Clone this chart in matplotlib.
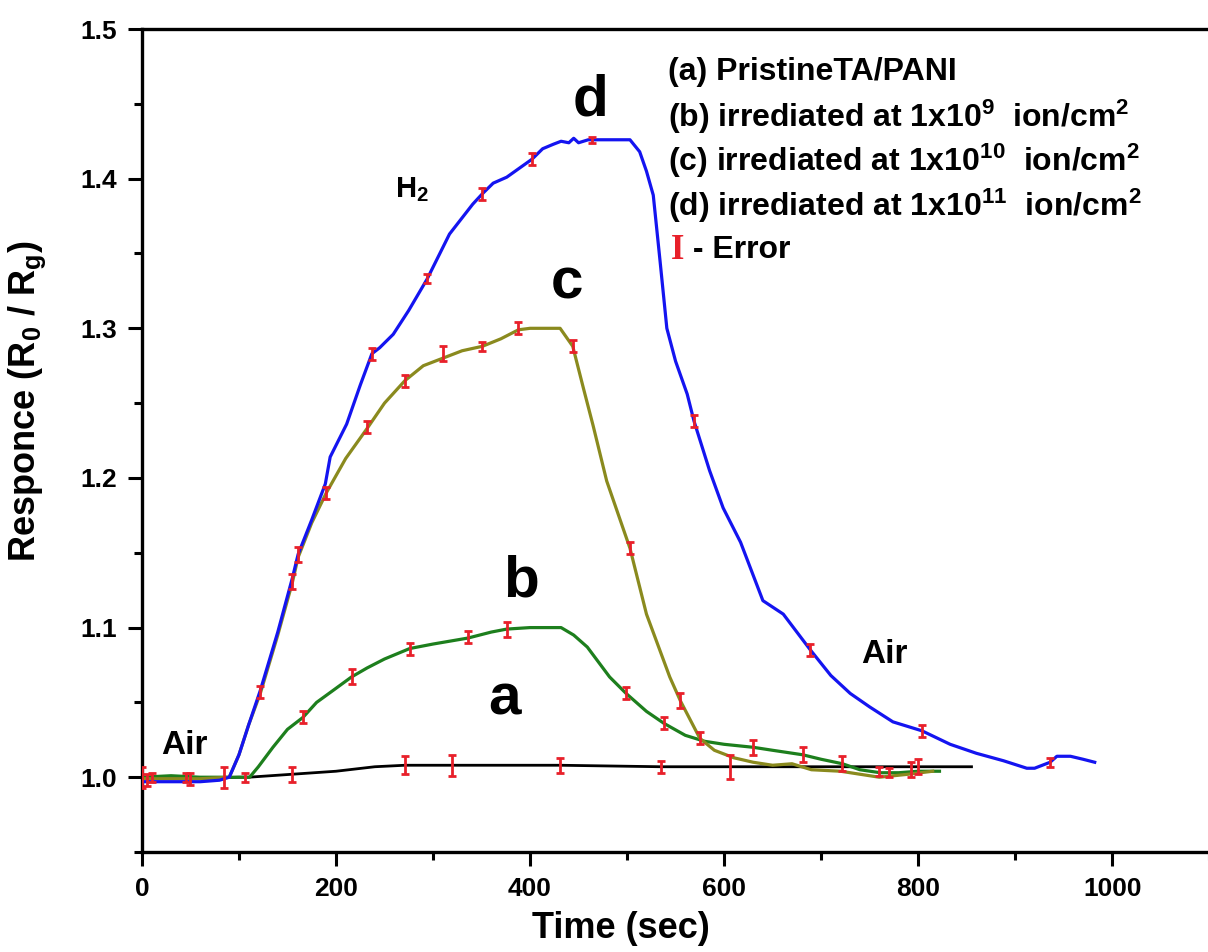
import matplotlib
matplotlib.use("Agg")
import matplotlib.pyplot as plt
from matplotlib.ticker import MultipleLocator

plt.rcParams['font.family'] = ['Liberation Sans', 'DejaVu Sans']
plt.rcParams['font.weight'] = 'bold'
plt.rcParams['mathtext.fontset'] = 'custom'
plt.rcParams['mathtext.rm'] = 'Liberation Sans:bold'
plt.rcParams['mathtext.bf'] = 'Liberation Sans:bold'
plt.rcParams['mathtext.it'] = 'Liberation Sans:bold'

# ---- data ----
d_x = [0, 20, 40, 60, 80, 90, 100, 110, 122, 140, 155, 161, 175, 189, 194, 211, 225, 237, 245, 259, 275, 294,
       317, 341, 351, 362, 376, 402, 413, 424, 432, 440, 445, 450, 460, 470, 480, 503, 513, 520, 527, 534,
       541, 550, 562, 569, 585, 599, 617, 640, 661, 689, 710, 730, 750, 774, 804, 833, 860, 888, 912, 920,
       936, 943, 957, 970, 982]
d_y = [0.997, 0.997, 0.997, 0.997, 0.998, 1.0, 1.015, 1.035, 1.058, 1.097, 1.133, 1.149, 1.172, 1.196, 1.214,
       1.236, 1.262, 1.283, 1.287, 1.296, 1.312, 1.333, 1.363, 1.383, 1.39, 1.397, 1.401, 1.413, 1.42, 1.423,
       1.425, 1.424, 1.427, 1.424, 1.426, 1.426, 1.426, 1.426, 1.418, 1.405, 1.389, 1.345, 1.30, 1.278, 1.256,
       1.238, 1.205, 1.18, 1.157, 1.118, 1.109, 1.085, 1.068, 1.056, 1.047, 1.037, 1.031, 1.022, 1.016, 1.011,
       1.006, 1.006, 1.010, 1.014, 1.014, 1.012, 1.010]

c_x = [0, 30, 60, 90, 100, 110, 122, 140, 155, 161, 175, 190, 210, 232, 250, 271, 290, 310, 330, 351, 370,
       388, 400, 431, 444, 455, 465, 479, 503, 520, 544, 555, 575, 590, 610, 630, 650, 670, 690, 720, 740,
       760, 790, 815]
c_y = [0.999, 0.999, 0.999, 1.0, 1.015, 1.035, 1.056, 1.095, 1.13, 1.147, 1.17, 1.19, 1.213, 1.233, 1.25,
       1.265, 1.275, 1.28, 1.285, 1.288, 1.293, 1.299, 1.30, 1.30, 1.288, 1.26, 1.235, 1.198, 1.153, 1.109,
       1.067, 1.051, 1.026, 1.018, 1.013, 1.010, 1.008, 1.009, 1.005, 1.004, 1.002, 1.0, 1.002, 1.004]

b_x = [0, 30, 60, 100, 111, 120, 135, 150, 166, 180, 197, 216, 232, 250, 276, 300, 336, 360, 376, 400, 432,
       445, 459, 482, 499, 520, 538, 560, 580, 600, 630, 650, 681, 700, 722, 740, 761, 780, 800, 822]
b_y = [1.0, 1.001, 1.0, 1.0, 1.0, 1.007, 1.02, 1.032, 1.04, 1.05, 1.058, 1.067, 1.073, 1.079, 1.086, 1.089,
       1.093, 1.097, 1.099, 1.100, 1.100, 1.095, 1.087, 1.067, 1.056, 1.044, 1.036, 1.028, 1.024, 1.022, 1.020,
       1.018, 1.015, 1.012, 1.009, 1.005, 1.003, 1.003, 1.004, 1.004]

a_x = [0, 50, 100, 110, 155, 200, 240, 271, 320, 380, 431, 535, 606, 700, 800, 855]
a_y = [0.999, 0.999, 1.0, 1.0, 1.002, 1.004, 1.007, 1.008, 1.008, 1.008, 1.008, 1.007, 1.007, 1.007, 1.007, 1.007]

# error bars (x, y, half error)
d_ex = [5, 122, 155, 237, 294, 351, 402, 464, 569, 689, 804, 936]
d_ey = [0.998, 1.057, 1.131, 1.283, 1.333, 1.39, 1.413, 1.426, 1.238, 1.085, 1.031, 1.010]
d_ee = [0.004, 0.004, 0.005, 0.004, 0.003, 0.004, 0.004, 0.002, 0.004, 0.004, 0.004, 0.003]

c_ex = [45, 161, 190, 232, 271, 310, 351, 388, 444, 503, 555, 575, 630, 760]
c_ey = [1.0, 1.149, 1.19, 1.234, 1.265, 1.283, 1.288, 1.300, 1.288, 1.153, 1.051, 1.026, 1.020, 1.004]
c_ee = [0.003, 0.005, 0.004, 0.004, 0.004, 0.005, 0.003, 0.004, 0.004, 0.004, 0.005, 0.004, 0.005, 0.003]

b_ex = [10, 106, 166, 216, 276, 336, 376, 499, 538, 681, 722, 770, 793]
b_ey = [1.0, 1.0, 1.04, 1.067, 1.086, 1.094, 1.099, 1.056, 1.036, 1.015, 1.009, 1.003, 1.005]
b_ee = [0.003, 0.003, 0.004, 0.005, 0.004, 0.004, 0.005, 0.004, 0.004, 0.005, 0.005, 0.003, 0.005]

a_ex = [0, 50, 85, 155, 271, 320, 431, 535, 606, 800]
a_ey = [1.0, 0.999, 1.0, 1.002, 1.008, 1.008, 1.008, 1.007, 1.007, 1.007]
a_ee = [0.007, 0.004, 0.007, 0.005, 0.006, 0.007, 0.005, 0.004, 0.008, 0.005]

legend_lines = [r"(a) PristineTA/PANI",
                r"(b) irrediated at 1x10$^{9}$  ion/cm$^{2}$",
                r"(c) irrediated at 1x10$^{10}$  ion/cm$^{2}$",
                r"(d) irrediated at 1x10$^{11}$  ion/cm$^{2}$"]

# ---- figure ----
fig = plt.figure(figsize=(12.08, 9.52), dpi=100)
ax = fig.add_axes([0.1175, 0.105, 0.8835, 0.8645])

blue = '#1414f0'
olive = '#8a8a1e'
green = '#1d7f1d'
red = '#e8202a'

ax.plot(a_x, a_y, color='black', lw=2.0, zorder=3)
ax.plot(b_x, b_y, color=green, lw=2.3, zorder=4)
ax.plot(c_x, c_y, color=olive, lw=2.3, zorder=5)
ax.plot(d_x, d_y, color=blue, lw=2.3, zorder=6)

for ex, ey, ee in [(a_ex, a_ey, a_ee), (b_ex, b_ey, b_ee), (c_ex, c_ey, c_ee), (d_ex, d_ey, d_ee)]:
    ax.errorbar(ex, ey, yerr=ee, fmt='none', ecolor=red, elinewidth=2.0, capsize=3, capthick=2.0, zorder=8)

ax.set_xlim(0, 1100)
ax.set_ylim(0.95, 1.5)
ax.xaxis.set_major_locator(MultipleLocator(200))
ax.xaxis.set_minor_locator(MultipleLocator(100))
ax.yaxis.set_minor_locator(MultipleLocator(0.05))
ax.set_yticks([1.0, 1.1, 1.2, 1.3, 1.4, 1.5])
ax.set_yticklabels(['1.0', '1.1', '1.2', '1.3', '1.4', '1.5'])
ax.tick_params(axis='both', which='major', direction='out', length=10, width=2.2, labelsize=19, pad=8)
ax.tick_params(axis='both', which='minor', direction='out', length=6, width=2.2)
for lab in ax.get_xticklabels() + ax.get_yticklabels():
    lab.set_fontweight('bold')
for s in ['left', 'bottom', 'top']:
    ax.spines[s].set_linewidth(2.4)
ax.spines['right'].set_visible(False)

ax.set_xlabel('Time (sec)', fontsize=26, fontweight='bold')
ax.xaxis.set_label_coords(0.449, -0.072)
ax.set_ylabel(r'Responce (R$_{0}$ / R$_{g}$)', fontsize=26, fontweight='bold')
ax.yaxis.set_label_coords(-0.088, 0.548)

# annotations
ax.text(462, 1.452, 'd', fontsize=42, fontweight='bold', ha='center', va='center')
ax.text(438, 1.330, 'c', fontsize=42, fontweight='bold', ha='center', va='center')
ax.text(391, 1.131, 'b', fontsize=42, fontweight='bold', ha='center', va='center')
ax.text(374, 1.052, 'a', fontsize=42, fontweight='bold', ha='center', va='center')
ax.text(278, 1.393, r'H$_{2}$', fontsize=21, fontweight='bold', ha='center', va='center')
ax.text(44, 1.021, 'Air', fontsize=24, fontweight='bold', ha='center', va='center')
ax.text(765, 1.082, 'Air', fontsize=24, fontweight='bold', ha='center', va='center')

ly = [1.471, 1.441, 1.412, 1.382]
for t, yv in zip(legend_lines, ly):
    ax.text(542, yv, t, fontsize=23, fontweight='bold', ha='left', va='center')
ax.text(545, 1.352, 'I', fontsize=25, fontweight='bold', color=red, family='Liberation Serif',
        ha='left', va='center')
ax.text(559, 1.352, ' - Error', fontsize=23, fontweight='bold', ha='left', va='center')

fig.savefig('out.png', dpi=100)
